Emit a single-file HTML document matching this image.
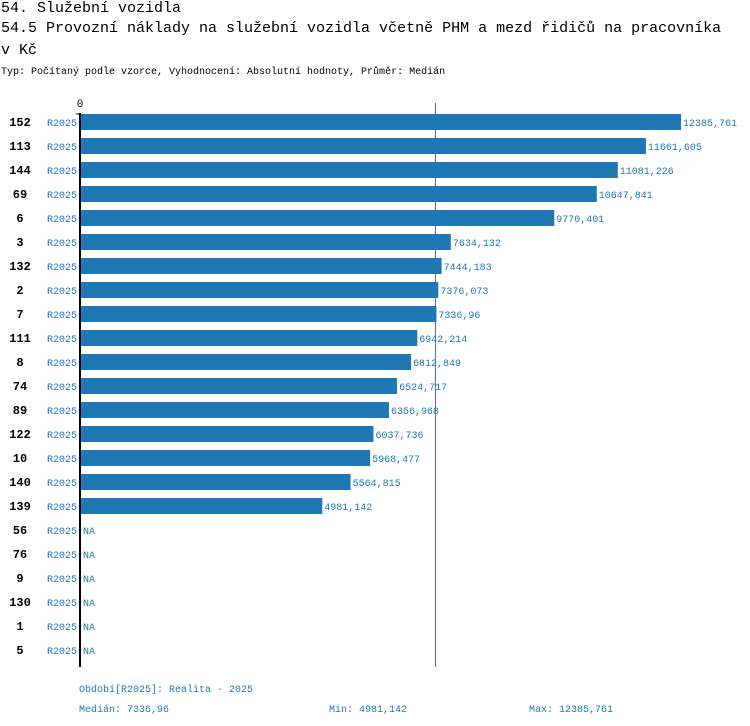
<!DOCTYPE html>
<html><head><meta charset="utf-8"><style>
body{margin:0;background:#fff;width:750px;height:726px;overflow:hidden;font-family:"Liberation Mono","DejaVu Sans Mono",monospace}
.t{position:absolute;left:1px;font-size:15px;color:#000;white-space:nowrap}
.s{position:absolute;left:1px;top:67px;font-size:10px;color:#000;white-space:nowrap}
</style></head><body>
<div class="t" style="top:0px">54. Služební vozidla</div>
<div class="t" style="top:20px">54.5 Provozní náklady na služební vozidla včetně PHM a mezd řidičů na pracovníka</div>
<div class="t" style="top:42px">v Kč</div>
<div class="s">Typ: Počítaný podle vzorce, Vyhodnocení: Absolutní hodnoty, Průměr: Medián</div>
<svg id="c" width="750" height="726" style="position:absolute;left:0;top:0"></svg>
<script>
const categories=["152","113","144","69","6","3","132","2","7","111","8","74","89","122","10","140","139","56","76","9","130","1","5"];
const values=[12385761,11661605,11081226,10647841,9770401,7634132,7444183,7376073,7336960,6942214,6812849,6524717,6356968,6037736,5968477,5564815,4981142,null,null,null,null,null,null];
const labels=["12385,761","11661,605","11081,226","10647,841","9770,401","7634,132","7444,183","7376,073","7336,96","6942,214","6812,849","6524,717","6356,968","6037,736","5968,477","5564,815","4981,142","NA","NA","NA","NA","NA","NA"];
const median=7336960;
const ns="http://www.w3.org/2000/svg",svg=document.getElementById('c');
const x0=81,maxV=12385761,maxW=600;
const x=v=>x0+v/maxV*maxW;
const y=i=>114+i*24;
function mk(t,a){const e=document.createElementNS(ns,t);for(const k in a)e.setAttribute(k,a[k]);svg.appendChild(e);return e;}
const ml=mk('line',{x1:x(median)-1,x2:x(median)-1,y1:103,y2:667,stroke:'#4a6f8f','stroke-width':1});


categories.forEach((c,i)=>{
  const cy=y(i)+8;
  const t=mk('text',{x:20,y:cy+4,'font-size':12,'font-weight':'bold','text-anchor':'middle','font-family':'Liberation Mono,monospace'});t.textContent=c;
  
  
  const p=mk('text',{x:47,y:cy+4,'font-size':10,fill:'#1f77b4','font-family':'Liberation Mono,monospace'});p.textContent='R2025';
  
  
  let end=x0+2;
  if(values[i]!=null){
    const r=mk('rect',{x:x0,y:y(i),width:x(values[i])-x0,height:16,fill:'#1f77b4'});
    
    
    end=x(values[i])+2;
  }
  const v=mk('text',{x:end,y:cy+4,'font-size':10,fill:'#1f77b4','font-family':'Liberation Mono,monospace'});v.textContent=labels[i];
  
  
});
const ax=mk('line',{x1:80,x2:80,y1:113,y2:667,stroke:'#000','stroke-width':2});


const tk=mk('line',{x1:76,x2:81,y1:114,y2:114,stroke:'#000','stroke-width':1});


const z=mk('text',{x:80,y:107,'font-size':11,'text-anchor':'middle','font-family':'Liberation Mono,monospace'});z.textContent='0';


const foot=[[79,692,'Období[R2025]: Realita - 2025','period-legend'],[79,712,'Medián: 7336,96','median-stat'],[329,712,'Min: 4981,142','min-stat'],[529,712,'Max: 12385,761','max-stat']];
foot.forEach(f=>{const t=mk('text',{x:f[0],y:f[1],'font-size':10,fill:'#1f77b4','font-family':'Liberation Mono,monospace'});t.textContent=f[2];

});
</script>
</body></html>
